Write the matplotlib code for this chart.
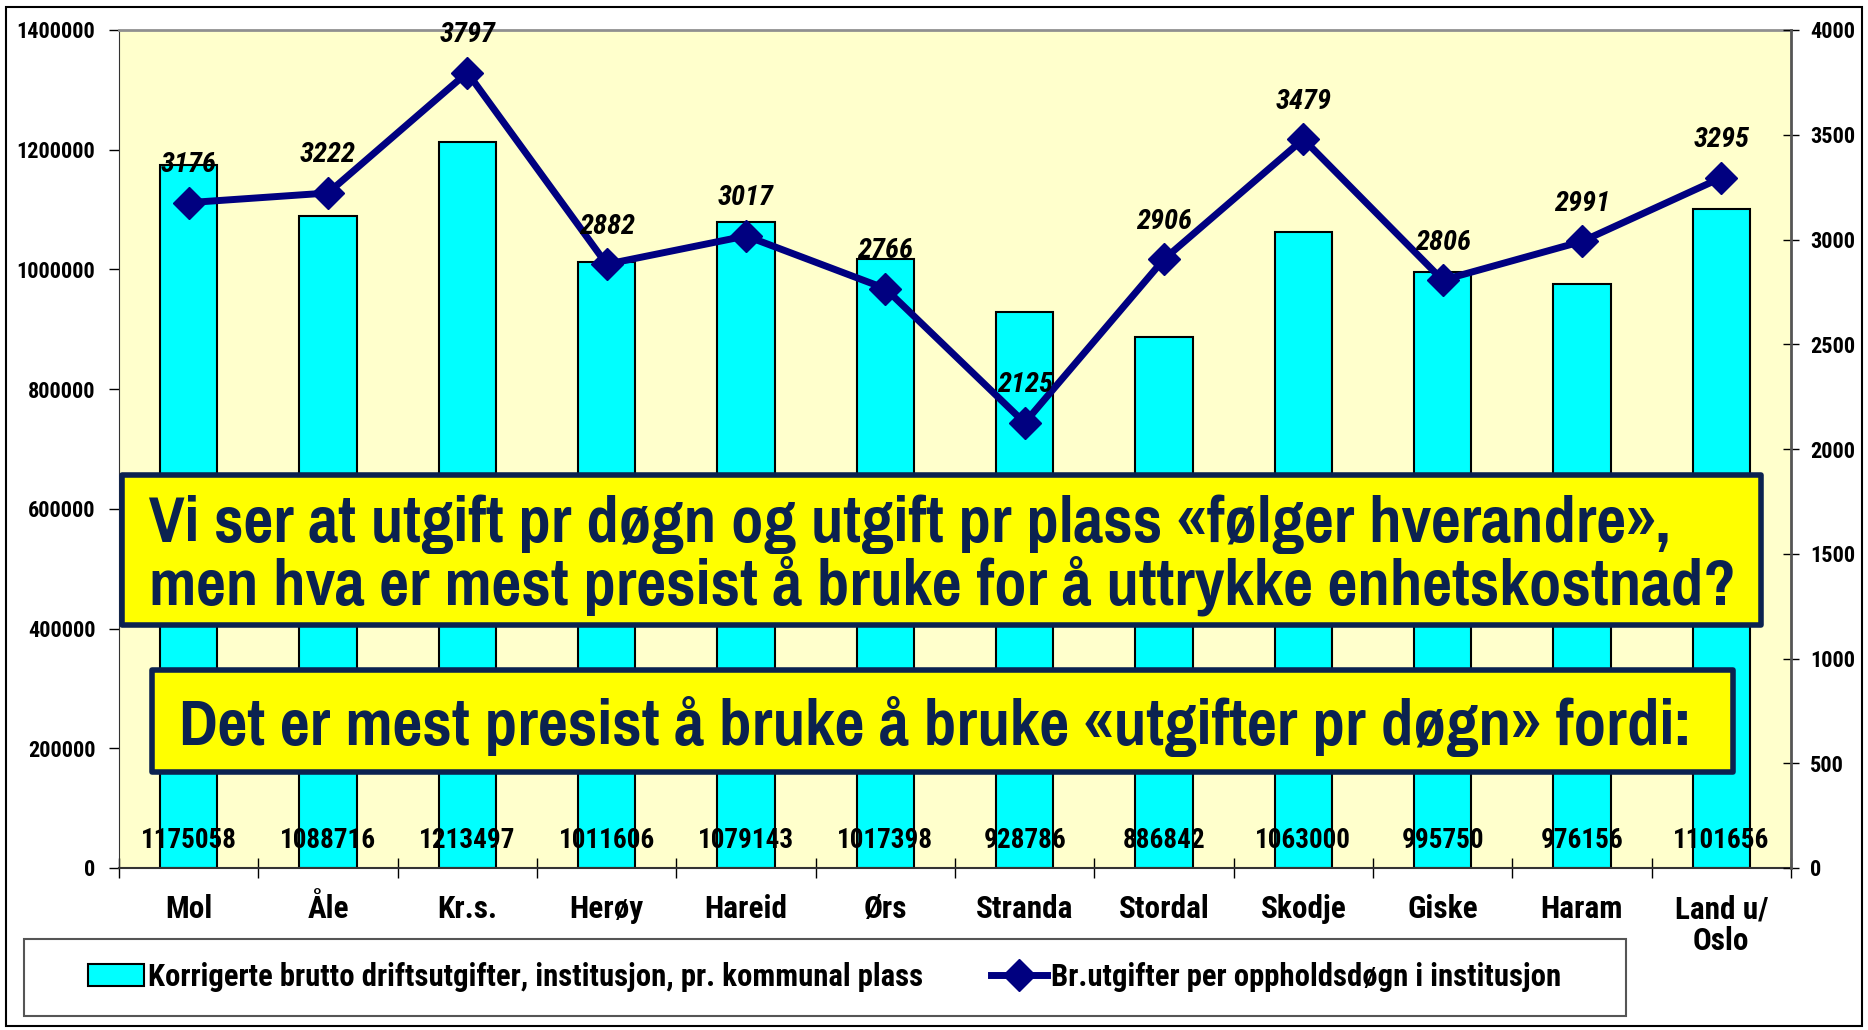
import numpy as np
import matplotlib
matplotlib.use("Agg")
import matplotlib.pyplot as plt
from matplotlib.patches import Rectangle
from matplotlib.transforms import blended_transform_factory

NARROW = ['Roboto Condensed', 'Pragati Narrow', 'Liberation Sans', 'DejaVu Sans']
BIG = ['Pragati Narrow', 'Roboto Condensed', 'Liberation Sans', 'DejaVu Sans']
plt.rcParams['font.family'] = NARROW
plt.rcParams['font.weight'] = 'bold'

categories = ["Mol", "Åle", "Kr.s.", "Herøy", "Hareid", "Ørs", "Stranda",
              "Stordal", "Skodje", "Giske", "Haram", "Land u/\nOslo"]
bar_values = [1175058, 1088716, 1213497, 1011606, 1079143, 1017398, 928786,
              886842, 1063000, 995750, 976156, 1101656]
line_values = [3176, 3222, 3797, 2882, 3017, 2766, 2125, 2906, 3479, 2806, 2991, 3295]
bar_label = "Korrigerte brutto driftsutgifter, institusjon, pr. kommunal plass"
line_label = "Br.utgifter per oppholdsdøgn i institusjon"
box1_lines = ["Vi ser at utgift pr døgn og utgift pr plass «følger hverandre»,",
              "men hva er mest presist å bruke for å uttrykke enhetskostnad?"]
box2_line = "Det er mest presist å bruke å bruke «utgifter pr døgn» fordi:"

W, H = 1868, 1030
fig = plt.figure(figsize=(W / 100, H / 100), dpi=100)
fig.patch.set_facecolor('white')

def fx(px):
    return px / W

def fy(py):
    return 1 - py / H

ax = fig.add_axes([fx(119), fy(868), fx(1791) - fx(119), fy(30) - fy(868)])
ax.set_facecolor('#FFFFCC')
x = np.arange(len(categories))
bars = ax.bar(x, bar_values, width=0.41, color='#00FFFF', edgecolor='black',
              linewidth=1.5, zorder=2, label=bar_label)
ax.set_xlim(-0.5, len(categories) - 0.5)
ax.set_ylim(0, 1400000)
ax.set_yticks(np.arange(0, 1400001, 200000))
ax.set_yticklabels([str(v) for v in range(0, 1400001, 200000)])
ax.set_xticks(x)
ax.set_xticklabels(categories, fontsize=22.5, fontweight='bold', linespacing=1.05)
ax.set_xticks(np.arange(-0.5, len(categories), 1), minor=True)
ax.tick_params(axis='x', which='major', length=0, pad=19)
ax.tick_params(axis='x', which='minor', length=14, direction='inout', width=1)
ax.tick_params(axis='y', length=7, width=1, pad=10, labelsize=16)
for lab in ax.get_yticklabels():
    lab.set_fontweight('bold')
ax.spines['top'].set_color('#909090')
ax.spines['top'].set_linewidth(2)
ax.spines['left'].set_color('#333333')
ax.spines['bottom'].set_color('#333333')
ax.spines['bottom'].set_linewidth(1.5)
ax.spines['right'].set_visible(False)

tr = blended_transform_factory(ax.transData, ax.transAxes)
for xi, v in zip(x, bar_values):
    ax.text(xi, 0.0334, str(v), transform=tr, ha='center', va='center',
            fontsize=19.5, fontweight='bold', zorder=4)

ax2 = ax.twinx()
ax2.set_ylim(0, 4000)
ax2.set_yticks(np.arange(0, 4001, 500))
line, = ax2.plot(x, line_values, color='#000080', lw=5, marker='D', ms=16,
                 zorder=3, label=line_label)
ax2.tick_params(axis='y', length=11, width=1, direction='inout', pad=8, labelsize=16)
for lab in ax2.get_yticklabels():
    lab.set_fontweight('bold')
for s in ['left', 'top', 'bottom']:
    ax2.spines[s].set_visible(False)
ax2.spines['right'].set_color('#555555')
ax2.spines['right'].set_linewidth(2)
for xi, v in zip(x, line_values):
    ax2.annotate(str(v), (xi, v), xytext=(0, 38), textcoords='offset pixels',
                 ha='center', va='center', fontsize=20.5, fontweight='bold',
                 fontstyle='italic')

# legend
fig.add_artist(Rectangle((fx(24), fy(1016)), fx(1626) - fx(24), fy(939) - fy(1016),
                         transform=fig.transFigure, facecolor='white',
                         edgecolor='#555555', lw=1.5, zorder=1))

def make_legend(size):
    lg = fig.legend(handles=[bars, line], labels=[bar_label, line_label], loc='center',
                    bbox_to_anchor=(fx(825), fy(977)), ncol=2, frameon=False,
                    prop={'family': NARROW, 'weight': 'bold', 'size': size},
                    handlelength=1.8, handletextpad=0.15, columnspacing=2.2,
                    handleheight=0.7)
    lg.set_zorder(2)
    return lg

leg = make_legend(19)

# outer frame
fig.add_artist(Rectangle((fx(6), fy(1026)), fx(1862) - fx(6), fy(7) - fy(1026),
                         transform=fig.transFigure, facecolor='none',
                         edgecolor='black', lw=1.5, zorder=10))

navy = '#0B2250'
# text box 1
fig.add_artist(Rectangle((fx(122), fy(625)), fx(1761) - fx(122), fy(475) - fy(625),
                         transform=fig.transFigure, facecolor='#FFFF00',
                         edgecolor=navy, lw=4, joinstyle='round', zorder=5))
t1 = fig.text(fx(149), fy(542), box1_lines[0], ha='left', va='baseline', family=BIG,
              fontsize=42, fontweight='bold', color=navy, zorder=6)
t2 = fig.text(fx(149), fy(605), box1_lines[1], ha='left', va='baseline', family=BIG,
              fontsize=42, fontweight='bold', color=navy, zorder=6)
# text box 2
fig.add_artist(Rectangle((fx(152), fy(772)), fx(1733) - fx(152), fy(670) - fy(772),
                         transform=fig.transFigure, facecolor='#FFFF00',
                         edgecolor=navy, lw=4, joinstyle='round', zorder=5))
t3 = fig.text(fx(179), fy(745), box2_line, ha='left', va='baseline', family=BIG,
              fontsize=42, fontweight='bold', color=navy, zorder=6)

# fit the big texts and the legend to their measured widths
fig.canvas.draw()
r = fig.canvas.get_renderer()
w2 = t2.get_window_extent(r).width
scale = 1587 / w2
for t in (t1, t2):
    t.set_fontsize(42 * scale)
w3 = t3.get_window_extent(r).width
t3.set_fontsize(42 * 1513 / w3)
wl = leg.get_window_extent(r).width
leg.remove()
leg = make_legend(19 * 1500 / wl)

fig.savefig('out.png', dpi=100)
